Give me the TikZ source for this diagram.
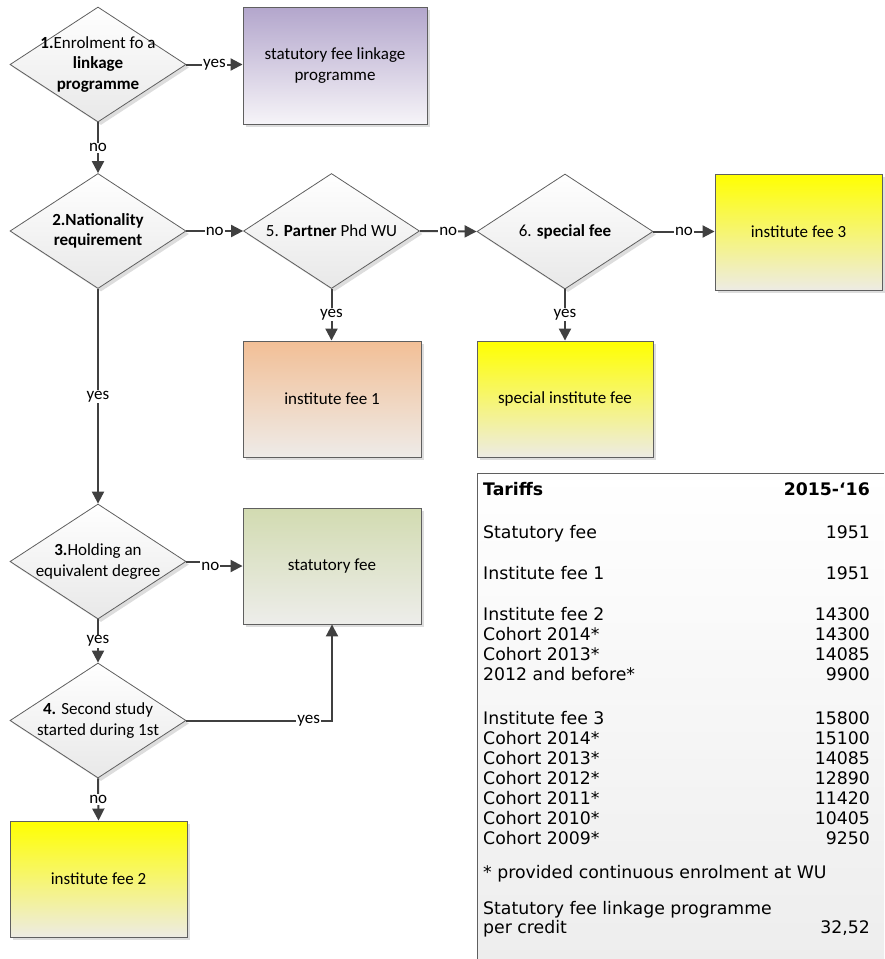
\documentclass[tikz,border=0pt]{standalone}
\usepackage{fontspec}
\usepackage{xcolor}
\usepackage{tikz}
\usetikzlibrary{shapes.geometric, arrows.meta, shadows}
\newfontfamily\carlito{Carlito}
\newfontfamily\verd{DejaVu Sans}
\definecolor{edgeGray}{HTML}{5F5F5F}
\definecolor{flowGray}{HTML}{404040}
\definecolor{diaGray}{HTML}{E8E8E8}
\definecolor{lilacTop}{HTML}{B3A6CC}
\definecolor{lilacBot}{HTML}{F6F4F8}
\definecolor{peachTop}{HTML}{F2BF96}
\definecolor{peachBot}{HTML}{EEEBE8}
\definecolor{sageTop}{HTML}{D2DBB1}
\definecolor{sageBot}{HTML}{EDEDEA}
\definecolor{lemonTop}{HTML}{FFFF00}
\definecolor{lemonBot}{HTML}{EDEBE4}
\definecolor{paleShadow}{HTML}{DDDDDD}
\tikzset{
    flowfont/.style={font=\carlito\fontsize{17}{20.5}\selectfont},
    softshadow/.style={drop shadow={shadow xshift=3pt, shadow yshift=-3pt, fill=paleShadow, opacity=1}},
    decision/.style={diamond, draw=edgeGray, line width=0.8pt, top color=white, bottom color=diaGray,
        minimum width=176pt, minimum height=115pt, shape aspect=1.53, inner sep=-7pt,
        align=center, flowfont, softshadow},
    feebox/.style={rectangle, draw=edgeGray, line width=0.9pt, minimum width=178pt, minimum height=116pt,
        align=center, flowfont, softshadow},
    flow/.style={draw=flowGray, line width=2pt, -{Triangle[length=12pt,width=12pt]}},
    lbl/.style={fill=white, inner sep=1pt, flowfont},
    tabrow/.style={inner sep=0pt, font=\verd\fontsize{17.3}{20}\selectfont},
    tabhead/.style={tabrow, font=\verd\bfseries\fontsize{17.3}{20}\selectfont}
}

\begin{document}
\begin{tikzpicture}[x=1pt, y=-1pt]
    \useasboundingbox (0,0) rectangle (884,959);

    % decisions
    \node[decision] (d1) at (98,64.5) {\textbf{1.}Enrolment fo a\\\textbf{linkage}\\\textbf{programme}};
    \node[decision] (d2) at (98,231) {\textbf{2.Nationality}\\\textbf{requirement}};
    \node[decision] (d5) at (331.5,231) {5. \textbf{Partner} Phd WU};
    \node[decision] (d6) at (565,231.5) {6. \textbf{special fee}};
    \node[decision] (d3) at (98,561.5) {\textbf{3.}Holding an\\equivalent degree};
    \node[decision] (d4) at (98,720.5) {\textbf{4.} Second study\\started during 1st};

    % fees
    \node[feebox, minimum width=184pt, minimum height=117pt, top color=lilacTop, bottom color=lilacBot]
        (b1) at (335,65.5) {statutory fee linkage\\programme};
    \node[feebox, minimum width=167pt, top color=lemonTop, bottom color=lemonBot] (b3) at (798.5,232) {institute fee 3};
    \node[feebox, minimum width=176pt, top color=lemonTop, bottom color=lemonBot] (fs) at (565,399) {special institute fee};
    \node[feebox, top color=peachTop, bottom color=peachBot] (f1) at (332,399) {institute fee 1};
    \node[feebox, top color=sageTop, bottom color=sageBot] (sf) at (332,566) {statutory fee};
    \node[feebox, minimum width=177pt, top color=lemonTop, bottom color=lemonBot] (f2) at (98.5,879) {institute fee 2};

    % connectors
    \draw[flow] (d1.south) -- node[lbl]{no} (d2.north);
    \draw[flow] (d1.east) -- node[lbl]{yes} (d1.east -| b1.west);
    \draw[flow] (d2.east) -- node[lbl]{no} (d5.west);
    \draw[flow] (d5.east) -- node[lbl]{no} (d6.west);
    \draw[flow] (d6.east) -- node[lbl]{no} (d6.east -| b3.west);
    \draw[flow] (d5.south) -- node[lbl]{yes} (d5.south |- f1.north);
    \draw[flow] (d6.south) -- node[lbl]{yes} (d6.south |- fs.north);
    \draw[flow] (d2.south) -- node[lbl]{yes} (d3.north);
    \draw[flow] (d3.east) -- ++(16,0) |- node[lbl, pos=0.6]{no} (sf.west);
    \draw[flow] (d3.south) -- node[lbl]{yes} (d4.north);
    \draw[flow] (d4.east) -| node[lbl, pos=0.42]{yes} (sf.south);
    \draw[flow] (d4.south) -- node[lbl]{no} (f2.north);

    % tariff table
    \fill[top color=white, bottom color=black!7] (477,473) rectangle (884,959);
    \draw[edgeGray, line width=1pt] (884,473) -- (477,473) -- (477,959);
    \node[tabhead, anchor=base west] (tarH) at (483,495) {Tariffs};
    \node[tabhead, anchor=base east] (yearH) at (870,495) {2015-‘16};
    \foreach \y/\lab/\val [count=\i] in {
        538/Statutory fee/1951, 579/Institute fee 1/1951,
        620/Institute fee 2/14300, 640/Cohort 2014*/14300, 660/Cohort 2013*/14085, 680/2012 and before*/9900,
        724/Institute fee 3/15800, 744/Cohort 2014*/15100, 764/Cohort 2013*/14085, 784/Cohort 2012*/12890,
        804/Cohort 2011*/11420, 824/Cohort 2010*/10405, 844/Cohort 2009*/9250, 933/per credit/{32,52}}
    {
        \node[tabrow, anchor=base west] (lab\i) at (483,\y) {\lab};
        \node[tabrow, anchor=base east] (val\i) at (870,\y) {\val};
    }
    \node[tabrow, anchor=base west] (note) at (483,878) {* provided continuous enrolment at WU};
    \node[tabrow, anchor=base west] (link) at (483,914) {Statutory fee linkage programme};
\end{tikzpicture}
\end{document}
